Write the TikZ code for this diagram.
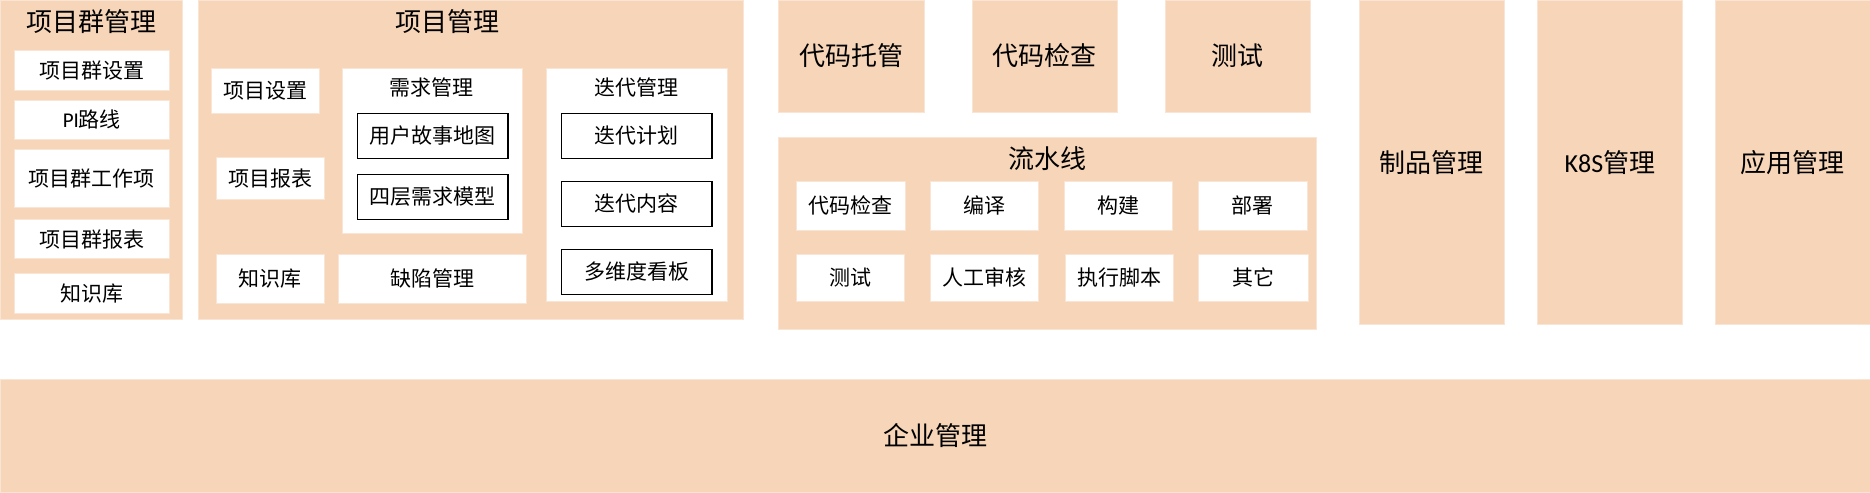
\documentclass[tikz,border=0pt]{standalone}
\usepackage{fontspec}
\setmainfont{Noto Sans CJK SC}
\newfontfamily\latinf{Carlito}
\usetikzlibrary{fit}
\definecolor{peach}{RGB}{246,213,184}
\definecolor{peachline}{RGB}{250,228,212}
\begin{document}
\begin{tikzpicture}[x=1.1926bp,y=-1.1926bp,
  outer/.style={fill=peach,draw=peachline,line width=0.6bp,inner sep=0pt},
  wbox/.style={fill=white,draw=peachline,line width=0.6bp,inner sep=0pt},
  bbox/.style={fill=white,draw=black,line width=1.2bp,inner sep=0pt},
  smalltxt/.style={inner sep=0pt,font=\fontsize{21bp}{24bp}\selectfont,text height=18.5bp,text depth=2.5bp},
  bigtxt/.style={inner sep=0pt,font=\fontsize{26bp}{30bp}\selectfont,text height=22.9bp,text depth=3.1bp},
  sl/.style={label={[smalltxt]center:#1}},
  bl/.style={label={[bigtxt]center:#1}}]
\useasboundingbox (0,0) rectangle (1568,413);

% 项目群管理
\node[outer,fit={(0,0)(153,268)}] (pgm) {};
\node[bigtxt] (pgmt) at (77,18) {项目群管理};
\node[wbox,fit={(12,42)(142,76)},sl=项目群设置] (pg1) {};
\node[wbox,fit={(12,84)(142,117)},sl={{\latinf PI}路线}] (pg2) {};
\node[wbox,fit={(12,125)(142,174)},sl=项目群工作项] (pg3) {};
\node[wbox,fit={(12,184)(142,217)},sl=项目群报表] (pg4) {};
\node[wbox,fit={(12,229)(142,263)},sl=知识库] (pg5) {};

% 项目管理
\node[outer,fit={(166,0)(623,268)}] (pm) {};
\node[bigtxt] (pmt) at (375,18) {项目管理};
\node[wbox,fit={(177,57)(268,95)},sl=项目设置] (pm1) {};
\node[wbox,fit={(181,132)(272,167)},sl=项目报表] (pm2) {};
\node[wbox,fit={(181,213)(272,254)},sl=知识库] (pm3) {};
\node[wbox,fit={(287,57)(438,196)}] (req) {};
\node[smalltxt] (reqt) at (362,73) {需求管理};
\node[bbox,fit={(300,95)(426,133)},sl=用户故事地图] (req1) {};
\node[bbox,fit={(300,146)(426,184)},sl=四层需求模型] (req2) {};
\node[wbox,fit={(284,213)(441,254)},sl=缺陷管理] (bug) {};
\node[wbox,fit={(458,57)(610,253)}] (it) {};
\node[smalltxt] (itt) at (534,73) {迭代管理};
\node[bbox,fit={(471,95)(597,133)},sl=迭代计划] (it1) {};
\node[bbox,fit={(471,152)(597,190)},sl=迭代内容] (it2) {};
\node[bbox,fit={(471,209)(597,247)},sl=多维度看板] (it3) {};

% top row
\node[outer,fit={(653,0)(775,94)},bl=代码托管] (code) {};
\node[outer,fit={(815,0)(937,94)},bl=代码检查] (check) {};
\node[outer,fit={(977,0)(1099,94)},bl=测试] (test) {};

% 流水线
\node[outer,fit={(653,115)(1104,276)}] (pl) {};
\node[bigtxt] (plt) at (878,133) {流水线};
\node[wbox,fit={(668,152)(759,193)},sl=代码检查] (pl1) {};
\node[wbox,fit={(780,152)(871,193)},sl=编译] (pl2) {};
\node[wbox,fit={(892,152)(983,193)},sl=构建] (pl3) {};
\node[wbox,fit={(1005,152)(1096,193)},sl=部署] (pl4) {};
\node[wbox,fit={(668,213)(758,253)},sl=测试] (pl5) {};
\node[wbox,fit={(780,213)(871,253)},sl=人工审核] (pl6) {};
\node[wbox,fit={(893,213)(984,253)},sl=执行脚本] (pl7) {};
\node[wbox,fit={(1005,213)(1097,253)},sl=其它] (pl8) {};

% right columns
\node[outer,fit={(1140,0)(1261,272)},bl=制品管理] (art) {};
\node[outer,fit={(1289,0)(1411,272)},bl={{\latinf K8S}管理}] (k8s) {};
\node[outer,fit={(1438,0)(1568,272)},bl=应用管理] (app) {};

% bottom
\node[outer,fit={(0,318)(1568,413)},bl=企业管理] (ent) {};
\end{tikzpicture}
\end{document}
